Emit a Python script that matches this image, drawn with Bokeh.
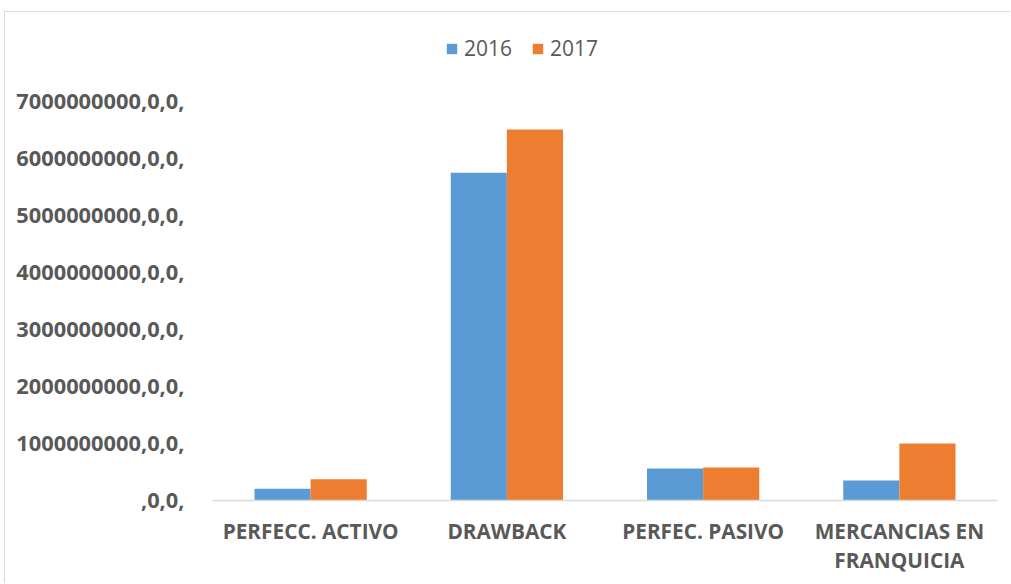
from bokeh.plotting import figure
from bokeh.models import ColumnDataSource, FactorRange, Range1d, FixedTicker, Legend, LegendItem
from bokeh.transform import dodge
from bokeh.embed import file_html
from bokeh.resources import INLINE

categories = ["PERFECC. ACTIVO", "DRAWBACK", "PERFEC. PASIVO", "MERCANCIAS EN\nFRANQUICIA"]
values_2016 = [205e6, 5750e6, 560e6, 350e6]
values_2017 = [374e6, 6510e6, 580e6, 1000e6]
y_ticks = [0, 1000000000, 2000000000, 3000000000, 4000000000, 5000000000, 6000000000, 7000000000]
y_tick_labels = [",0,0,", "1000000000,0,0,", "2000000000,0,0,", "3000000000,0,0,",
                 "4000000000,0,0,", "5000000000,0,0,", "6000000000,0,0,", "7000000000,0,0,"]

source = ColumnDataSource(dict(cat=categories, v16=values_2016, v17=values_2017))

TEXT = "#595959"
FONT = "Open Sans"

# layout (canvas pixels)
W, H = 1006, 572
LEFT, RIGHT = 207, 14
TOP, BOTTOM = 10, 84
HEADROOM = 79          # pixels between frame top and the 7e9 tick
frame_h = H - TOP - BOTTOM
y_max = y_ticks[-1] * frame_h / (frame_h - HEADROOM)

p = figure(width=W, height=H, x_range=FactorRange(*categories), y_range=Range1d(0, y_max),
           output_backend="svg", toolbar_location=None,
           min_border_left=LEFT, min_border_right=RIGHT, min_border_top=TOP, min_border_bottom=BOTTOM,
           margin=(11, 0, 0, 4),
           styles={"border-top": "1px solid #d9d9d9", "border-left": "1px solid #d9d9d9"})
p.x_range.range_padding = 0
p.outline_line_color = None
p.xgrid.visible = False
p.ygrid.visible = False

r16 = p.vbar(x=dodge("cat", -0.143, range=p.x_range), top="v16", width=0.286, bottom=0,
             source=source, fill_color="#5B9BD5", line_color=None)
r17 = p.vbar(x=dodge("cat", 0.143, range=p.x_range), top="v17", width=0.286, bottom=0,
             source=source, fill_color="#ED7D31", line_color=None)

yax = p.yaxis[0]
yax.ticker = FixedTicker(ticks=y_ticks)
yax.major_label_overrides = {t: l for t, l in zip(y_ticks, y_tick_labels)}
yax.axis_line_color = None
yax.major_tick_line_color = None
yax.minor_tick_line_color = None
yax.major_label_text_font = FONT
yax.major_label_text_font_style = "bold"
yax.major_label_text_font_size = "21.8px"
yax.major_label_text_color = TEXT
yax.major_label_standoff = 22

xax = p.xaxis[0]
xax.axis_line_color = "#d9d9d9"
xax.axis_line_width = 1.5
xax.major_tick_line_color = None
xax.minor_tick_line_color = None
xax.major_label_text_font = FONT
xax.major_label_text_font_style = "bold"
xax.major_label_text_font_size = "20.8px"
xax.major_label_text_color = TEXT
xax.major_label_text_line_height = 1.05
xax.major_label_standoff = 10

legend = Legend(items=[LegendItem(label="2016", renderers=[r16]), LegendItem(label="2017", renderers=[r17])],
                orientation="horizontal", location=(233, 438),
                glyph_width=13, glyph_height=13, label_standoff=6, spacing=19,
                padding=0, margin=0, border_line_color=None, background_fill_alpha=0,
                label_text_font=FONT, label_text_font_size="21px", label_text_color=TEXT)
p.add_layout(legend)

open("out.html", "w").write(file_html(p, INLINE))
